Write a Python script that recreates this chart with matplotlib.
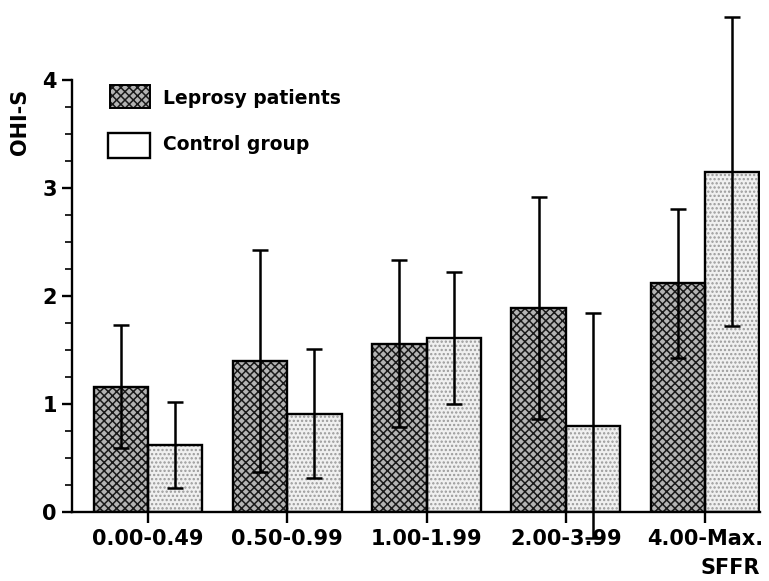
import numpy as np
import matplotlib
matplotlib.use("Agg")
import matplotlib.pyplot as plt
from matplotlib.patches import Rectangle

# SFFR classes and OHI-S means / SD
categories = ["0.00-0.49", "0.50-0.99", "1.00-1.99", "2.00-3.99", "4.00-Max."]
leprosy_mean = [1.16, 1.40, 1.56, 1.89, 2.12]
leprosy_sd = [0.57, 1.03, 0.77, 1.03, 0.69]
control_mean = [0.62, 0.91, 1.61, 0.80, 3.15]
control_sd = [0.40, 0.60, 0.61, 1.04, 1.43]

plt.rcParams['font.family'] = ['DejaVu Sans']
plt.rcParams['font.weight'] = 'bold'
plt.rcParams['hatch.linewidth'] = 1.1

fig = plt.figure(figsize=(7.69, 5.81), dpi=100)
ax = fig.add_axes([0.0936, 0.1188, 0.8947, 0.7435])

x = np.arange(len(categories))
w = 0.39
lep_face = '#b4b4b4'

# textured fills (hatch drawn in gray/black), then black outline on top
ax.bar(x - w/2, leprosy_mean, w, color=lep_face, hatch='xxxx', edgecolor='#1a1a1a', linewidth=0)
ax.bar(x + w/2, control_mean, w, color='#f0f0f0', hatch='....', edgecolor='#9a9a9a', linewidth=0)
ax.bar(x - w/2, leprosy_mean, w, fill=False, edgecolor='black', linewidth=1.7)
ax.bar(x + w/2, control_mean, w, fill=False, edgecolor='black', linewidth=1.7)

ax.errorbar(x - w/2, leprosy_mean, yerr=leprosy_sd, fmt='none', ecolor='black',
            elinewidth=1.8, capsize=6, capthick=1.8, clip_on=False)
eb = ax.errorbar(x + w/2, control_mean, yerr=control_sd, fmt='none', ecolor='black',
                 elinewidth=1.8, capsize=6, capthick=1.8)
for art in eb.lines[1] + eb.lines[2]:
    art.set_clip_on(False)

ax.set_xlim(-0.546, 4.395)
ax.set_ylim(0, 4)
ax.spines['top'].set_visible(False)
ax.spines['right'].set_visible(False)
ax.spines['left'].set_linewidth(1.7)
ax.spines['bottom'].set_linewidth(1.7)

ax.set_xticks(x)
ax.set_xticklabels(categories, fontsize=15, fontweight='bold')
ax.tick_params(axis='x', length=8, width=1.7, pad=4)
ax.set_yticks([0, 1, 2, 3, 4])
ax.set_yticks(np.arange(0, 4.01, 0.25), minor=True)
ax.tick_params(axis='y', which='major', length=7, width=1.7, labelsize=15, pad=4)
ax.tick_params(axis='y', which='minor', length=5, width=1.2)

fig.text(0.026, 0.79, "OHI-S", rotation=90, fontsize=15, fontweight='bold', ha='center', va='center')
fig.text(0.988, 0.022, "SFFR", fontsize=15, fontweight='bold', ha='right', va='center')

# legend boxes
lx, lw_ = 110 / 769, 40 / 769
fig.add_artist(Rectangle((lx, 1 - 108 / 581), lw_, 23 / 581, transform=fig.transFigure,
                         facecolor=lep_face, hatch='xxxx', edgecolor='#1a1a1a', linewidth=0))
fig.add_artist(Rectangle((lx, 1 - 108 / 581), lw_, 23 / 581, transform=fig.transFigure,
                         fill=False, edgecolor='black', linewidth=1.4))
fig.add_artist(Rectangle((108 / 769, 1 - 158 / 581), 42 / 769, 25 / 581, transform=fig.transFigure,
                         facecolor='white', edgecolor='black', linewidth=1.7))
fig.text(163 / 769, 1 - 98 / 581, "Leprosy patients", fontsize=13.5, fontweight='bold', va='center')
fig.text(163 / 769, 1 - 145 / 581, "Control group", fontsize=13.5, fontweight='bold', va='center')

fig.savefig("out.png", dpi=100)
